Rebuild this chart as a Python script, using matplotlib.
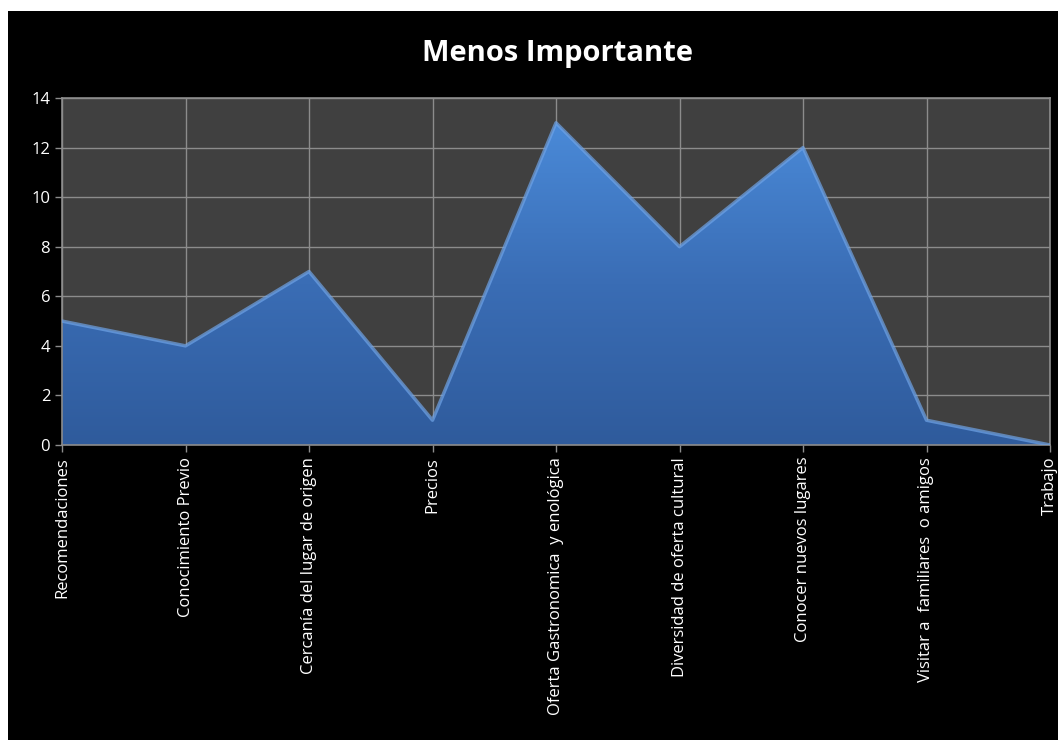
import matplotlib.pyplot as plt
import numpy as np
from matplotlib.patches import Rectangle
from matplotlib.colors import LinearSegmentedColormap

categorias = ['Recomendaciones', 'Conocimiento Previo', 'Cercanía del lugar de origen',
              'Precios', 'Oferta Gastronomica  y enológica', 'Diversidad de oferta cultural',
              'Conocer nuevos lugares', 'Visitar a  familiares  o amigos', 'Trabajo']
valores = [5, 4, 7, 1, 13, 8, 12, 1, 0]
y_ticks = [0, 2, 4, 6, 8, 10, 12, 14]

plt.rcParams['font.family'] = ['Open Sans', 'DejaVu Sans']

fig = plt.figure(figsize=(10.64, 7.4), dpi=100)
fig.patch.set_facecolor('white')
# black chart area with a white margin on the left, top and right
fig.patches.append(Rectangle((8 / 1064, 0), 1050 / 1064, 1 - 11 / 740,
                             transform=fig.transFigure, facecolor='black',
                             edgecolor='none', zorder=-10))

ax = fig.add_axes([62 / 1064, 1 - 445 / 740, 988 / 1064, 347 / 740])
ax.set_facecolor('#404040')

x = np.arange(len(valores))
ax.set_xlim(0, len(valores) - 1)

# gradient fill clipped to the area shape
poly = ax.fill_between(x, valores, 0, color='none', zorder=2)
cmap = LinearSegmentedColormap.from_list('azul', ['#2f5b9c', '#3a6db5', '#4a8ad8'])
grad = np.linspace(0, 1, 256).reshape(-1, 1)
img = ax.imshow(grad, extent=[0, len(valores) - 1, 0, max(valores)], origin='lower',
                aspect='auto', cmap=cmap, zorder=2)
img.set_clip_path(poly.get_paths()[0], transform=ax.transData)
ax.set_ylim(0, 14)
# soft bevel highlight along the top edge
ax.plot(x, valores, color='#6fa3e6', lw=2.5, alpha=0.7, zorder=3,
        solid_joinstyle='round')

ax.set_yticks(y_ticks)
ax.set_xticks(x)
ax.set_xticklabels(categorias, rotation=90, va='top', ha='center')
ax.grid(True, color='#8c8c8c', lw=1)
ax.set_axisbelow(True)
for s in ax.spines.values():
    s.set_color('#8c8c8c')
    s.set_linewidth(1.2)
ax.tick_params(colors='#8c8c8c', labelcolor='white', labelsize=12, length=5, width=1)

fig.text(557 / 1064, 1 - 53 / 740, 'Menos Importante', color='white',
         fontsize=21, fontweight='bold', ha='center', va='center')

plt.savefig('out.png', dpi=100, facecolor=fig.get_facecolor())
